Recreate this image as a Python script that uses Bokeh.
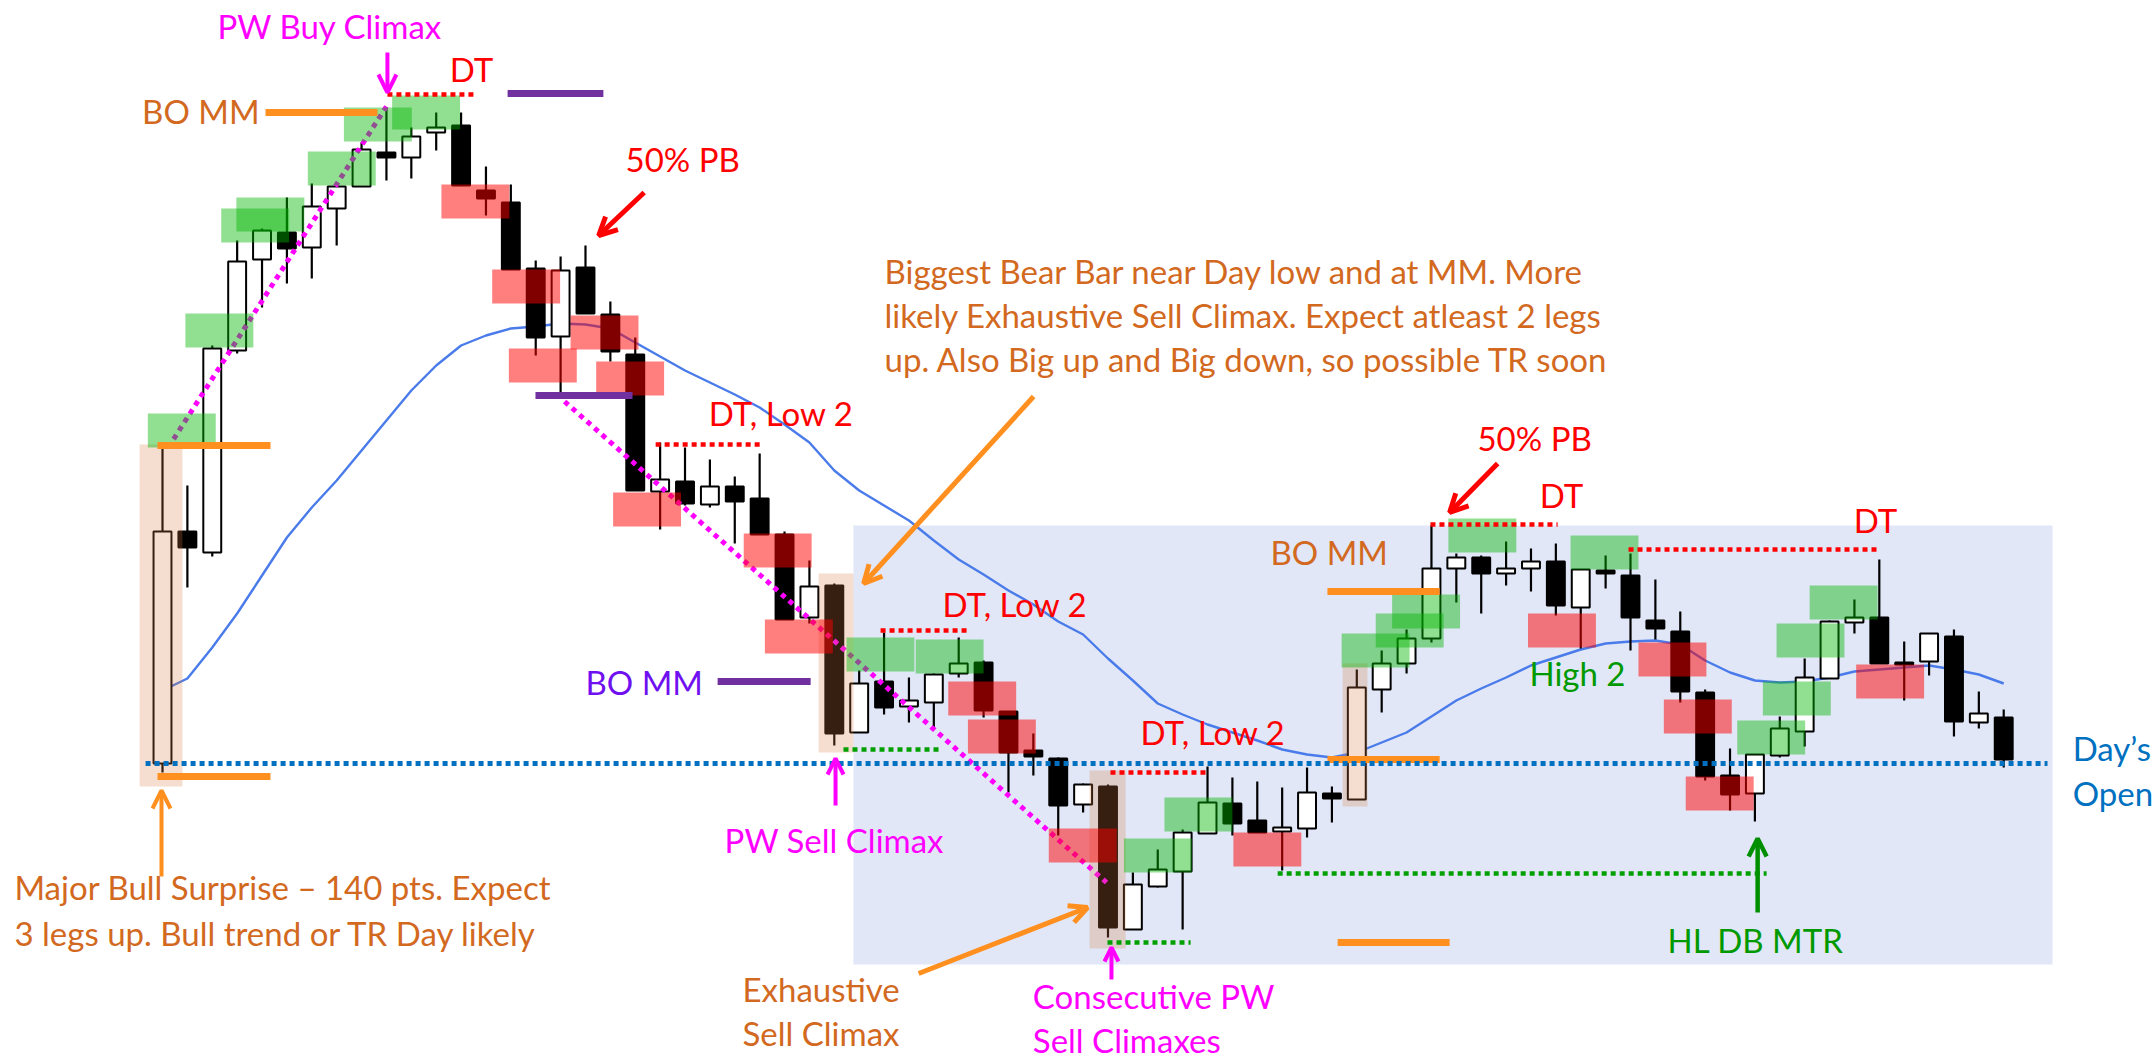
from bokeh.plotting import figure
from bokeh.models import Range1d, Arrow, OpenHead
from bokeh.core.properties import value
from bokeh.embed import file_html
from bokeh.resources import INLINE

# ---------------- price data (bar index 0..74) ----------------
bars = list(range(75))
opens = [237, 469, 448, 650, 741, 768, 753, 792, 814, 848,
         843, 868, 875, 810, 798, 732, 664, 733, 686, 646,
         509, 519, 496, 514, 502, 466, 383, 415, 268, 319,
         294, 298, 327, 338, 289, 250, 242, 196, 214, 71,
         114, 129, 167, 197, 180, 169, 172, 207, 201, 311,
         337, 362, 432, 443, 427, 432, 439, 393, 430, 425,
         380, 369, 308, 225, 207, 245, 269, 322, 378, 383,
         338, 339, 364, 278, 283]
highs = [553, 515, 655, 760, 772, 803, 817, 816, 858, 893,
         873, 888, 888, 834, 816, 740, 744, 755, 699, 663,
         558, 553, 541, 524, 547, 469, 440, 417, 330, 368,
         323, 327, 363, 340, 289, 267, 243, 217, 216, 128,
         151, 171, 234, 223, 219, 213, 233, 214, 331, 350,
         371, 475, 447, 445, 459, 452, 457, 431, 445, 447,
         421, 389, 311, 252, 246, 284, 342, 380, 401, 441,
         359, 367, 371, 309, 291]
lows = [228, 413, 444, 647, 693, 717, 722, 755, 814, 820,
        822, 850, 815, 785, 731, 645, 608, 687, 639, 510,
        471, 495, 493, 457, 466, 381, 377, 255, 268, 286,
        278, 272, 323, 283, 208, 225, 165, 188, 63, 71,
        113, 71, 167, 165, 168, 130, 163, 178, 201, 288,
        327, 358, 398, 387, 415, 409, 385, 352, 412, 350,
        361, 298, 220, 190, 179, 243, 254, 322, 367, 337,
        300, 325, 264, 272, 233]
closes = [469, 453, 652, 739, 770, 752, 794, 814, 851, 843,
          864, 873, 815, 802, 731, 663, 730, 687, 649, 510,
          521, 497, 514, 499, 466, 381, 414, 267, 317, 293,
          300, 326, 337, 290, 248, 244, 195, 216, 73, 116,
          131, 168, 198, 177, 168, 173, 208, 202, 313, 337,
          362, 432, 443, 427, 432, 439, 395, 431, 427, 383,
          372, 309, 224, 206, 246, 272, 323, 379, 383, 337,
          336, 367, 279, 287, 241]
ema = [310, 322, 353, 387, 425, 463, 493, 520, 550, 580,
       610, 635, 655, 665, 672, 674, 677, 676, 672, 658,
       644, 630, 618, 606, 593, 576, 558, 530, 510, 495,
       480, 460, 441, 426, 410, 396, 379, 366, 342, 320,
       297, 286, 276, 268, 260, 251, 246, 243, 248, 258,
       268, 284, 300, 312, 323, 335, 343, 351, 357, 359,
       360, 356, 340, 328, 320, 318, 319, 323, 329, 331,
       333, 335, 331, 326, 317]
day_open = 237

# ---------------- annotation boxes ----------------
green_left = [-0.59, 0.92, 2.36, 2.97, 5.84, 7.29, 9.23, 27.49, 30.27, 38.64,
              40.27, 47.39, 48.76, 49.42, 51.68, 56.59, 63.29, 64.32, 64.87, 66.2]
green_top = [587, 687, 792, 803, 849, 893, 905, 363, 361, 162,
             203, 367, 387, 406, 482, 465, 280, 319, 377, 415]
red_left = [11.21, 13.25, 13.92, 16.4, 17.43, 18.11, 23.36, 24.21, 31.58, 32.37,
            35.62, 43.04, 54.88, 59.32, 60.34, 61.22, 68.07]
red_top = [816, 731, 652, 685, 639, 508, 467, 381, 319, 281,
           172, 168, 387, 358, 301, 224, 336]
box_w = 2.73
box_h = 34

tan_left = [-0.92, 26.37, 37.26, 47.43]
tan_right = [0.8, 27.77, 38.71, 48.43]
tan_top = [556, 427, 230, 337]
tan_bottom = [214, 248, 52, 194]

# ---------------- figure ----------------
p = figure(width=2154, height=1060, x_range=Range1d(-6.511, 80.06), y_range=Range1d(-60, 1000),
           output_backend="svg", toolbar_location=None, min_border=0,
           x_axis_type=None, y_axis_type=None)
p.xgrid.visible = False
p.ygrid.visible = False
p.outline_line_color = None
p.background_fill_color = "white"
p.border_fill_color = "white"

# trading range background
p.quad(left=[27.77], right=[75.96], top=[475], bottom=[36], fill_color="#E1E7F7", line_color=None)

# EMA
p.line(bars, ema, line_color="#4A7BEA", line_width=2.4)

# candles
body_top = [max(o, c) for o, c in zip(opens, closes)]
body_bot = [min(o, c) for o, c in zip(opens, closes)]
fills = ["white" if c >= o else "black" for o, c in zip(opens, closes)]
p.segment(x0=bars, y0=lows, x1=bars, y1=highs, line_color="black", line_width=2.2)
p.vbar(x=bars, width=0.72, top=body_top, bottom=body_bot, fill_color=fills,
       line_color="black", line_width=2)

# magenta trend dotted lines
p.segment(x0=[0.23, 16.16], y0=[553, 599], x1=[9.0, 37.94], y1=[894, 118],
          line_color="#FF00FF", line_width=5, line_dash="5 5")

# highlight boxes
p.quad(left=tan_left, right=tan_right, top=tan_top, bottom=tan_bottom,
       fill_color="#D77A40", fill_alpha=0.25, line_color=None)
p.quad(left=green_left, right=[x + box_w for x in green_left], top=green_top,
       bottom=[t - box_h for t in green_top], fill_color="#00B400", fill_alpha=0.43, line_color=None)
p.quad(left=red_left, right=[x + box_w for x in red_left], top=red_top,
       bottom=[t - box_h for t in red_top], fill_color="#FF0000", fill_alpha=0.5, line_color=None)

# orange measured-move lines
p.segment(x0=[4.14, -0.2, -0.2, 46.82, 46.82, 47.23], x1=[8.64, 4.34, 4.34, 51.33, 51.33, 51.73],
          y0=[888, 555, 224, 409, 241, 58], y1=[888, 555, 224, 409, 241, 58],
          line_color="#FF8F1F", line_width=7)
# purple lines
p.segment(x0=[13.87, 14.99, 22.31], x1=[17.72, 18.89, 26.05], y0=[907, 605, 319], y1=[907, 605, 319],
          line_color="#7030A0", line_width=7)
# red dotted DT lines
p.segment(x0=[9.04, 19.82, 28.86, 38.1, 50.96, 58.92], x1=[12.58, 24.04, 32.4, 42.0, 56.07, 68.93],
          y0=[906, 556, 370, 228, 476, 451], y1=[906, 556, 370, 228, 476, 451],
          line_color="#FF0000", line_width=4.5, line_dash="5 4")
# green dotted lines
p.segment(x0=[27.37, 37.98, 44.82], x1=[31.27, 41.32, 64.47], y0=[251, 58, 127], y1=[251, 58, 127],
          line_color="#00A000", line_width=4.5, line_dash="5 4")
# day's open
p.segment(x0=[-0.68], x1=[75.76], y0=[day_open], y1=[day_open],
          line_color="#0070C0", line_width=5, line_dash="5 4")

# arrows
def arrow(x0, y0, x1, y1, color, w, size=18):
    p.add_layout(Arrow(end=OpenHead(size=size, line_color=color, line_width=w),
                       x_start=x0, y_start=y0, x_end=x1, y_end=y1,
                       line_color=color, line_width=w))

arrow(9.04, 948, 9.04, 908, "#FF00FF", 4)
arrow(19.36, 808, 17.53, 765, "#FF0000", 5)
arrow(53.66, 537, 51.73, 488, "#FF0000", 5)
arrow(35.01, 604, 28.18, 417, "#FF8F1F", 5)
arrow(30.39, 27, 37.18, 93, "#FF8F1F", 5)
arrow(-0.04, 124, -0.04, 210, "#FF8F1F", 4)
arrow(27.05, 195, 27.05, 242, "#FF00FF", 4, 16)
arrow(38.14, 21, 38.14, 53, "#FF00FF", 4, 14)
arrow(64.11, 88, 64.11, 162, "#008F00", 4.5)

# texts
FONT = value("Lato")
FS = "33px"
def label(xs, ys, texts, color):
    p.text(x=xs, y=ys, text=texts, text_font=FONT, text_font_size=FS, text_color=color,
           text_baseline="alphabetic", text_align="left")

label([2.21, 22.59, 34.98, 34.98], [975, 161, 5, -39],
      ["PW Buy Climax", "PW Sell Climax", "Consecutive PW", "Sell Climaxes"], "#FF00FF")
label([11.54, 18.61, 21.95, 52.85, 55.35, 67.97, 31.35, 39.31],
      [932, 842, 587.5, 563, 506, 481, 397, 269],
      ["DT", "50% PB", "DT, Low 2", "50% PB", "DT", "DT", "DT, Low 2", "DT, Low 2"], "#FF0000")
label([-0.82, 44.53, 29.02, 29.02, 29.02, -5.95, -5.95, 23.31, 23.31],
      [890, 448.5, 730, 686, 642, 113.5, 68, 12, -32],
      ["BO MM", "BO MM",
       "Biggest Bear Bar near Day low and at MM. More",
       "likely Exhaustive Sell Climax. Expect atleast 2 legs",
       "up. Also Big up and Big down, so possible TR soon",
       "Major Bull Surprise \u2013 140 pts. Expect",
       "3 legs up. Bull trend or TR Day likely",
       "Exhaustive", "Sell Climax"], "#D2691E")
label([17.0], [318.5], ["BO MM"], "#7010F0")
label([54.94, 60.49], [328, 61], ["High 2", "HL DB MTR"], "#009900")
label([76.77, 76.77], [252.5, 208], ["Day\u2019s", "Open"], "#0070C0")

open("out.html", "w").write(file_html(p, INLINE))
